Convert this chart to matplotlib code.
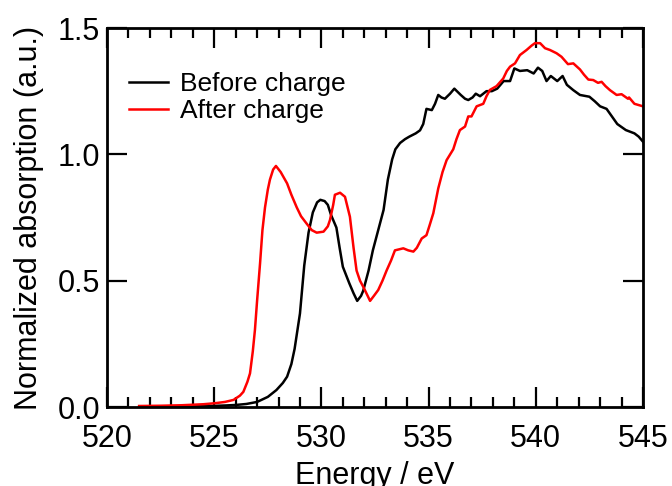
import matplotlib
matplotlib.use("Agg")
import matplotlib.pyplot as plt
from matplotlib.ticker import MultipleLocator

plt.rcParams['font.family'] = ['Liberation Sans', 'DejaVu Sans']

# Before charge
before_x = [521.5, 522.5, 523.5, 524.5, 525.5, 526.0, 526.5, 527.0, 527.5, 527.9,
            528.2, 528.4, 528.6, 528.75, 529.0, 529.2, 529.4, 529.6, 529.8, 529.95,
            530.15, 530.3, 530.45, 530.7, 530.85, 531.0, 531.3, 531.5, 531.67, 531.85,
            531.95, 532.2, 532.4, 532.65, 532.9, 533.1, 533.3, 533.45, 533.67, 533.9,
            534.1, 534.4, 534.6, 534.75, 534.9, 535.15, 535.3, 535.45, 535.6, 535.76,
            536.0, 536.2, 536.5, 536.7, 536.85, 537.05, 537.2, 537.4, 537.7, 537.95,
            538.2, 538.5, 538.8, 539.0, 539.26, 539.6, 539.9, 540.1, 540.3, 540.5,
            540.7, 541.0, 541.25, 541.45, 541.75, 542.06, 542.5, 542.75, 543.0, 543.3,
            543.55, 543.8, 544.2, 544.6, 544.8, 545.0]
before_y = [0.0, 0.001, 0.002, 0.003, 0.006, 0.008, 0.012, 0.02, 0.04, 0.067,
            0.095, 0.12, 0.17, 0.23, 0.37, 0.56, 0.69, 0.77, 0.81, 0.82,
            0.815, 0.80, 0.76, 0.71, 0.63, 0.555, 0.49, 0.45, 0.42, 0.44,
            0.46, 0.54, 0.62, 0.70, 0.78, 0.90, 0.98, 1.02, 1.045, 1.06,
            1.07, 1.083, 1.095, 1.12, 1.18, 1.175, 1.20, 1.235, 1.225, 1.22,
            1.24, 1.26, 1.235, 1.22, 1.215, 1.225, 1.24, 1.23, 1.25, 1.25,
            1.26, 1.29, 1.29, 1.34, 1.33, 1.333, 1.32, 1.343, 1.33, 1.29,
            1.31, 1.29, 1.31, 1.275, 1.254, 1.235, 1.228, 1.21, 1.19, 1.18,
            1.15, 1.12, 1.096, 1.083, 1.07, 1.05]

# After charge
after_x = [521.5, 522.5, 523.5, 524.5, 525.04, 525.5, 525.9, 526.2, 526.36, 526.55,
           526.67, 526.8, 526.9, 527.0, 527.14, 527.25, 527.37, 527.5, 527.6, 527.75,
           527.88, 528.1, 528.4, 528.6, 528.85, 529.05, 529.3, 529.55, 529.78, 530.1,
           530.3, 530.4, 530.55, 530.63, 530.87, 531.1, 531.33, 531.5, 531.64, 531.8,
           531.95, 532.1, 532.27, 532.45, 532.65, 532.85, 533.04, 533.25, 533.43, 533.82,
           534.05, 534.29, 534.45, 534.68, 534.9, 535.05, 535.22, 535.45, 535.65, 535.84,
           536.15, 536.3, 536.46, 536.7, 536.85, 537.0, 537.24, 537.55, 537.7, 537.86,
           538.17, 538.48, 538.65, 538.8, 539.03, 539.26, 539.57, 539.8, 539.96, 540.2,
           540.43, 540.66, 540.97, 541.2, 541.5, 541.75, 542.06, 542.25, 542.45, 542.68,
           542.9, 543.07, 543.25, 543.46, 543.77, 544.0, 544.3, 544.35, 544.6, 545.0]
after_y = [0.004, 0.005, 0.007, 0.011, 0.015, 0.02, 0.028, 0.045, 0.06, 0.10,
           0.133, 0.22, 0.305, 0.42, 0.57, 0.70, 0.79, 0.86, 0.90, 0.94,
           0.954, 0.93, 0.885, 0.84, 0.79, 0.755, 0.727, 0.70, 0.69, 0.694,
           0.715, 0.74, 0.80, 0.84, 0.848, 0.832, 0.753, 0.63, 0.54, 0.50,
           0.476, 0.45, 0.42, 0.44, 0.463, 0.50, 0.54, 0.58, 0.62, 0.628,
           0.62, 0.615, 0.63, 0.667, 0.68, 0.72, 0.767, 0.865, 0.93, 0.977,
           1.02, 1.06, 1.096, 1.11, 1.15, 1.15, 1.19, 1.20, 1.23, 1.255,
           1.27, 1.30, 1.33, 1.347, 1.36, 1.393, 1.413, 1.43, 1.44, 1.44,
           1.42, 1.413, 1.40, 1.386, 1.357, 1.36, 1.336, 1.315, 1.296, 1.294,
           1.283, 1.287, 1.27, 1.254, 1.235, 1.238, 1.22, 1.225, 1.20, 1.19]

labels = ["Before charge", "After charge"]
xticks = [520, 525, 530, 535, 540, 545]
yticks = [0.0, 0.5, 1.0, 1.5]

fig = plt.figure(figsize=(6.72, 4.86), dpi=100)
ax = fig.add_axes([107/672, 1 - 407/486, 536/672, 379/486])

ax.plot(before_x, before_y, color='black', lw=1.8, label=labels[0])
ax.plot(after_x, after_y, color='#ff0000', lw=1.8, label=labels[1])

ax.set_xlim(520, 545)
ax.set_ylim(0, 1.5)
ax.set_xticks(xticks)
ax.set_xticklabels([str(t) for t in xticks])
ax.set_yticks(yticks)
ax.set_yticklabels([f"{t:.1f}" for t in yticks])
ax.xaxis.set_minor_locator(MultipleLocator(1))

for s in ax.spines.values():
    s.set_linewidth(2.0)

ax.tick_params(which='both', direction='in', top=True, right=True, width=1.6,
               labelsize=22, colors='black')
ax.tick_params(which='major', length=14.4)
ax.tick_params(which='minor', length=7.2)
ax.tick_params(axis='x', which='major', pad=12)
ax.tick_params(axis='y', which='major', pad=5)

ax.set_xlabel("Energy / eV", fontsize=22, labelpad=5)
ax.set_ylabel("Normalized absorption (a.u.)", fontsize=22, labelpad=10)

ax.legend(loc='upper left', bbox_to_anchor=(0.041, 0.884), frameon=False,
          fontsize=19, handlelength=1.48, handletextpad=0.45, labelspacing=0.12,
          borderaxespad=0.0, borderpad=0.0)

fig.savefig("out.png", dpi=100)
